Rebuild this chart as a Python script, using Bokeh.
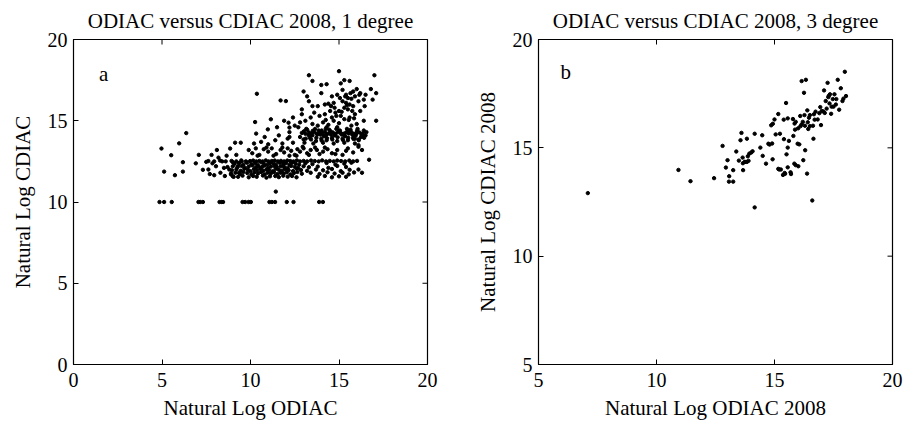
import math
from bokeh.plotting import figure
from bokeh.layouts import row
from bokeh.models import FixedTicker, Label
from bokeh.embed import file_html
from bokeh.resources import INLINE

FONT = "Liberation Serif"

# ---------------- Panel a data (1 degree) ----------------
floor_x = [4.86, 5.12, 5.55, 7.06, 7.16, 7.31, 8.25, 8.38, 8.45, 9.55, 9.70, 9.89, 10.02,
           11.07, 11.21, 11.39, 12.05, 12.43, 13.88, 14.09, 11.43]
floor_y = [10.0, 10.0, 10.0, 10.0, 10.0, 10.0, 10.0, 10.0, 10.0, 10.0, 10.0, 10.0, 10.0,
           10.0, 10.0, 10.0, 10.0, 10.0, 10.0, 10.0, 10.64]

left_x = [4.97, 5.12, 5.52, 5.73, 5.97, 6.18, 6.18, 6.37, 6.91, 7.08, 7.31, 7.50, 7.62, 7.70,
          7.80, 7.85, 7.95, 8.10, 8.19, 8.05, 8.30, 8.40, 8.50, 8.55, 8.65, 8.85, 8.80, 8.90,
          9.00, 9.05, 9.13, 9.20, 9.30, 9.35, 9.45, 9.50]
left_y = [13.29, 11.87, 12.88, 11.65, 13.61, 12.45, 11.87, 14.24, 12.38, 12.90, 11.98, 12.47,
          12.00, 11.72, 12.90, 12.38, 11.65, 13.20, 12.73, 12.20, 11.80, 12.50, 12.10, 11.60,
          12.85, 13.29, 12.00, 11.70, 12.45, 11.55, 13.65, 12.90, 12.20, 11.80, 13.65, 12.50]

line125_x = [7.62, 7.95, 8.28, 8.60, 8.93, 9.20, 9.48, 9.74, 9.98, 10.15, 10.33, 10.50, 10.68,
             10.86, 11.02, 11.20, 11.37, 11.55, 11.72, 11.90, 12.08, 12.25, 12.43, 12.62, 12.80,
             13.00, 13.20, 13.42, 13.63, 13.85, 14.05, 14.27, 14.48, 14.70, 14.90, 15.12, 15.35,
             15.58, 15.80, 16.02]
line125_y = [12.52, 12.50, 12.55, 12.50, 12.53, 12.50, 12.56, 12.50, 12.52, 12.55, 12.50, 12.53,
             12.50, 12.56, 12.50, 12.52, 12.55, 12.50, 12.53, 12.50, 12.55, 12.52, 12.50, 12.56,
             12.50, 12.53, 12.50, 12.55, 12.52, 12.50, 12.56, 12.50, 12.53, 12.50, 12.55, 12.52,
             12.50, 12.55, 12.50, 12.53]

band1_x = [9.10, 9.35, 9.60, 9.80, 10.05, 10.25, 10.40, 10.60, 10.75, 10.95, 11.10, 11.30, 11.45,
           11.65, 11.85, 12.00, 12.20, 12.35, 12.55, 12.75, 13.10, 13.50, 14.30, 14.80, 15.30, 15.70,
           8.70, 9.00, 9.25, 9.50, 9.70, 9.90, 10.10, 10.30, 10.45, 10.65, 10.80, 11.00, 11.15,
           11.35, 11.50, 11.70, 11.90, 12.10, 12.30, 12.50, 12.70, 13.00, 13.30, 13.80, 14.40,
           14.90, 15.40,
           8.95, 9.20, 9.45, 9.65, 9.85, 10.00, 10.20, 10.38, 10.55, 10.72, 10.90, 11.05, 11.25,
           11.42, 11.60, 11.78, 11.95, 12.15, 12.40, 12.60, 12.85, 13.20, 13.70, 14.10, 14.60,
           15.10, 15.60, 16.10,
           8.90, 9.15, 9.40, 9.60, 9.82, 10.05, 10.22, 10.42, 10.60, 10.80, 10.97, 11.15, 11.33,
           11.52, 11.70, 11.88, 12.05, 12.25, 12.45, 12.65, 12.90, 13.40, 13.90, 14.35, 14.75,
           15.20, 15.55, 15.85,
           9.00, 9.30, 9.55, 9.90, 10.15, 10.35, 10.70, 10.90, 11.10, 11.40, 11.60, 11.85, 12.10,
           12.35, 12.60, 13.80, 14.20, 14.60, 15.00, 15.40, 16.30, 16.70]
band1_y = [12.35, 12.40, 12.30, 12.42, 12.33, 12.38, 12.28, 12.44, 12.35, 12.30, 12.40, 12.36, 12.30,
           12.42, 12.34, 12.38, 12.30, 12.43, 12.35, 12.30, 12.38, 12.33, 12.40, 12.30, 12.36, 12.42,
           12.15, 12.20, 12.12, 12.22, 12.10, 12.18, 12.25, 12.12, 12.20, 12.15, 12.24, 12.10, 12.18,
           12.22, 12.12, 12.20, 12.15, 12.10, 12.22, 12.16, 12.10, 12.20, 12.14, 12.18, 12.10,
           12.22, 12.15,
           11.95, 12.00, 11.92, 12.05, 11.98, 11.90, 12.02, 11.95, 12.05, 11.92, 12.00, 11.96, 11.90,
           12.04, 11.98, 11.93, 12.02, 11.96, 11.90, 12.05, 11.97, 11.92, 12.00, 11.95, 12.03,
           11.90, 11.98, 12.00,
           11.75, 11.80, 11.72, 11.85, 11.78, 11.70, 11.82, 11.75, 11.85, 11.70, 11.80, 11.76, 11.84,
           11.72, 11.80, 11.75, 11.83, 11.70, 11.78, 11.85, 11.74, 11.80, 11.72, 11.83, 11.75,
           11.80, 11.70, 11.82,
           11.58, 11.55, 11.62, 11.52, 11.60, 11.55, 11.63, 11.50, 11.58, 11.60, 11.53, 11.62, 11.56,
           11.60, 11.52, 11.55, 11.60, 11.52, 11.58, 11.55, 11.80, 12.60]

mid_x = [9.90, 10.10, 10.30, 10.50, 10.75, 11.00, 11.20, 11.45, 11.70, 11.90, 12.10, 12.30, 12.50,
         12.65, 12.80, 13.00, 13.20, 13.40, 13.65, 13.90, 14.10, 14.35, 14.60, 14.90, 15.20, 15.50,
         15.80, 16.10, 10.40, 10.90, 11.30, 11.80, 12.20, 12.60, 12.95, 13.30, 13.75, 14.20, 14.80,
         15.40,
         10.20, 10.60, 11.00, 11.40, 11.80, 12.10, 12.40, 10.80, 11.60, 12.20, 10.32, 10.26, 11.15,
         10.98, 11.50, 12.15, 12.20, 10.36, 11.70, 12.00, 11.90, 12.50]
mid_y = [13.20, 13.00, 13.30, 12.90, 13.25, 13.10, 13.30, 12.95, 13.20, 13.05, 13.30, 13.15, 12.90,
         13.25, 13.10, 13.30, 13.00, 13.20, 13.35, 12.95, 13.10, 13.25, 13.00, 13.20, 12.90, 13.30,
         13.05, 13.40, 12.85, 13.35, 12.85, 13.35, 12.85, 12.85, 13.40, 12.90, 13.20, 13.35, 12.95,
         13.15,
         13.60, 13.70, 13.55, 13.80, 13.60, 13.90, 13.65, 14.00, 14.10, 14.30, 14.21, 14.92, 15.09,
         14.47, 14.60, 14.88, 14.58, 16.66, 16.25, 16.21, 15.00, 14.70]

band2_x = [12.90, 13.10, 13.30, 13.45, 13.60, 13.75, 13.90, 14.05, 14.20, 14.35, 14.50, 14.65,
           14.80, 14.95, 15.10, 15.25, 15.40, 15.55, 15.70, 15.85, 16.00, 16.15, 16.30, 16.45,
           12.80, 13.00, 13.20, 13.35, 13.50, 13.70, 13.85, 14.00, 14.15, 14.30, 14.45, 14.60,
           14.75, 14.90, 15.05, 15.20, 15.35, 15.50, 15.65, 15.80, 15.95, 16.10, 16.25, 16.40,
           16.55, 13.15, 13.40, 13.65, 13.95, 14.25, 14.55, 14.85, 15.15, 15.45, 15.75, 16.05,
           16.35, 13.05, 13.55, 14.10, 14.70, 15.30, 15.90, 16.50,
           13.02, 13.28, 13.52, 13.78, 14.02, 14.28, 14.52, 14.78, 15.02, 15.28, 15.52, 15.78,
           16.02, 16.28, 13.12, 13.42, 13.72, 14.02, 14.32, 14.62, 14.92, 15.22, 15.52, 15.82,
           16.12, 16.42]
band2_y = [14.25, 14.20, 14.28, 14.22, 14.30, 14.20, 14.26, 14.22, 14.30, 14.20, 14.25, 14.28,
           14.20, 14.30, 14.24, 14.20, 14.28, 14.22, 14.30, 14.20, 14.25, 14.28, 14.20, 14.30,
           14.00, 13.85, 14.45, 13.95, 14.10, 13.75, 14.40, 13.90, 14.05, 13.80, 14.45, 13.95,
           14.10, 13.75, 14.40, 13.90, 14.05, 13.80, 14.45, 13.95, 14.10, 13.85, 14.00, 14.40,
           14.30, 14.50, 14.10, 14.50, 14.15, 14.50, 14.15, 14.50, 14.15, 14.50, 14.15, 14.50,
           14.10, 13.65, 13.60, 13.65, 13.60, 13.65, 13.60, 14.10,
           14.35, 14.12, 14.38, 14.15, 14.40, 14.12, 14.35, 14.15, 14.38, 14.12, 14.35, 14.15,
           14.38, 14.12, 13.90, 13.85, 13.95, 13.78, 13.92, 13.85, 13.98, 13.82, 13.95, 13.88,
           13.80, 13.95]

upper_x = [13.30, 13.50, 14.30, 15.00, 15.10, 15.30, 15.60, 16.00, 16.20, 16.50, 16.80, 16.90,
           17.00, 17.10, 17.10, 16.40, 13.00, 13.20, 14.00, 14.20, 14.40, 14.70, 15.20, 15.40,
           15.50, 15.70, 15.90, 15.60, 15.30, 15.00, 14.80, 15.50, 15.80, 16.10, 14.50, 14.20,
           13.90, 13.60, 13.40, 13.10, 12.90, 12.80, 13.50, 13.80, 14.10, 14.40, 14.70, 15.00,
           15.30, 15.60, 15.90, 16.20, 16.00, 15.70, 14.90, 14.30, 13.80, 13.50, 14.60, 15.80,
           12.70, 12.40, 12.20, 16.40, 16.10, 16.30, 15.90, 14.00, 15.20, 14.90, 15.40, 12.90,
           13.30, 14.60, 15.10,
           14.55, 14.85, 15.15, 15.45, 15.75, 15.05, 15.35, 15.65, 14.25, 14.75, 15.55, 15.85,
           16.15, 16.45]
upper_y = [17.80, 17.45, 17.25, 18.05, 17.30, 17.50, 17.45, 16.95, 16.70, 16.60, 16.95, 16.30,
           17.80, 16.70, 15.00, 16.30, 16.80, 16.50, 16.70, 16.00, 16.05, 16.10, 16.20, 16.10,
           16.40, 16.35, 16.50, 16.00, 15.80, 15.60, 15.50, 15.70, 15.90, 16.20, 15.60, 15.40,
           15.30, 15.50, 15.20, 15.00, 15.40, 14.90, 14.80, 14.70, 14.90, 14.75, 15.00, 14.85,
           15.10, 15.20, 15.40, 15.60, 14.80, 14.70, 14.60, 14.60, 15.90, 15.90, 16.50, 16.80,
           14.60, 15.20, 14.00, 15.00, 13.50, 13.20, 13.90, 17.20, 16.90, 16.60, 16.60, 15.70,
           16.20, 15.20, 15.30,
           15.90, 15.30, 15.55, 15.95, 15.60, 16.40, 16.50, 16.70, 15.05, 15.80, 15.05, 15.15,
           16.60, 15.90]

# ---------------- Panel b data (3 degree) ----------------
b_x = [7.09, 10.93, 11.44, 12.44, 12.80, 12.94, 13.01, 13.08, 13.07, 13.25, 13.25, 13.38, 13.49,
       13.56, 13.60, 13.65, 13.66, 13.67, 13.74, 13.83, 13.83, 13.87, 13.93, 14.01, 14.07, 14.16,
       14.16, 14.40, 14.48, 14.50, 14.64, 14.74, 14.79, 14.86, 14.92, 14.93, 15.00, 15.05, 15.16,
       15.16, 15.23, 15.27, 15.36, 15.39, 15.43, 15.49, 15.51, 15.56, 15.56, 15.56, 15.61, 15.70,
       15.68, 15.78, 15.80, 15.84, 15.85, 15.87, 15.98, 16.01, 16.05, 16.09, 16.15, 16.15, 16.22,
       16.25, 16.27, 16.29, 16.30, 16.33, 16.38, 16.39, 16.41, 16.43, 16.46, 16.50, 16.60, 16.63,
       16.65, 16.67, 16.74, 16.83, 16.94, 16.97, 17.07, 17.13, 17.10, 17.17, 17.21, 17.25, 17.28,
       17.33, 17.35, 17.40, 17.42, 17.47, 17.54, 17.62, 17.68, 17.74, 17.81, 17.88, 17.92, 17.98,
       18.03,
       15.90, 16.10, 16.20, 16.50, 16.00, 16.70, 16.90, 17.00, 17.50, 17.60, 17.30, 15.40, 14.90,
       13.90, 13.75, 15.20, 15.45, 15.90]
b_y = [12.91, 13.98, 13.46, 13.60, 15.09, 14.09, 14.43, 13.69, 13.44, 13.44, 13.97, 14.83, 14.41,
       15.35, 15.69, 14.55, 14.29, 13.97, 14.35, 15.42, 14.35, 14.61, 14.73, 14.78, 14.84, 15.65,
       12.25, 15.01, 15.58, 14.63, 14.27, 15.19, 15.15, 16.04, 14.47, 16.11, 16.31, 15.62, 16.56,
       14.03, 15.65, 14.00, 13.75, 16.30, 13.84, 17.07, 14.70, 15.01, 16.36, 14.10, 15.32, 13.79,
       13.87, 16.33, 15.55, 14.27, 16.12, 15.84, 15.19, 14.15, 15.16, 16.47, 16.08, 18.08, 14.43,
       17.54, 16.51, 16.02, 14.89, 18.14, 13.81, 16.73, 16.18, 15.87, 16.39, 16.51, 12.57, 16.02,
       15.42, 16.55, 16.67, 16.31, 16.88, 16.05, 16.68, 16.61, 17.65, 17.16, 16.81, 18.00, 17.34,
       17.05, 17.47, 16.57, 16.90, 17.25, 17.47, 17.25, 18.14, 16.76, 17.75, 17.16, 17.27, 18.51,
       17.39,
       16.20, 16.00, 16.20, 16.00, 15.90, 16.30, 16.60, 16.70, 16.90, 17.00, 17.40, 15.40, 15.20,
       14.40, 14.35, 14.00, 13.80, 14.20]

a_x = floor_x + left_x + line125_x + band1_x + mid_x + band2_x + upper_x
a_y = floor_y + left_y + line125_y + band1_y + mid_y + band2_y + upper_y

ticks_a = [0, 5, 10, 15, 20]
ticks_b = [5, 10, 15, 20]


def make_panel(title, xs, ys, rng, ticks, xlabel, ylabel, letter, letter_xy,
               width, left, right):
    p = figure(width=width, height=434, x_range=rng, y_range=rng,
               output_backend="svg", toolbar_location=None,
               min_border_left=left, min_border_right=right,
               min_border_top=38, min_border_bottom=70,
               title=title)
    p.title.text_font = FONT
    p.title.text_font_size = "21px"
    p.title.text_font_style = "normal"
    p.title.align = "center"
    p.title.text_color = "black"
    p.title.standoff = 13
    p.xgrid.visible = False
    p.ygrid.visible = False
    p.outline_line_color = "black"
    p.outline_line_width = 1.2
    p.background_fill_color = "white"
    p.border_fill_color = "white"

    for ax, lab in ((p.xaxis[0], xlabel), (p.yaxis[0], ylabel)):
        ax.ticker = FixedTicker(ticks=ticks)
        ax.axis_label = lab
        ax.axis_label_text_font = FONT
        ax.axis_label_text_font_size = "21px"
        ax.axis_label_text_font_style = "normal"
        ax.axis_label_text_color = "black"
        ax.major_label_text_font = FONT
        ax.major_label_text_font_size = "20px"
        ax.major_label_text_color = "black"
        ax.major_tick_in = 5
        ax.major_tick_out = 0
        ax.minor_tick_line_color = None
        ax.axis_line_color = "black"
        ax.major_tick_line_color = "black"
    p.xaxis[0].major_label_standoff = 8
    p.yaxis[0].major_label_standoff = 6
    p.xaxis[0].axis_label_standoff = 6
    p.yaxis[0].axis_label_standoff = 10

    # inward tick marks on the top and right edges (half of each dash is clipped by the frame)
    lo, hi = rng
    p.scatter(ticks, [hi] * len(ticks), marker="dash", size=10, angle=math.pi / 2,
              line_color="black", line_width=1)
    p.scatter([hi] * len(ticks), ticks, marker="dash", size=10,
              line_color="black", line_width=1)

    p.scatter(xs, ys, size=3.4, color="black", line_color="black")
    p.add_layout(Label(x=letter_xy[0], y=letter_xy[1], text=letter,
                       text_font=FONT, text_font_size="21px",
                       text_align="center", text_baseline="middle",
                       text_color="black"))
    return p


p1 = make_panel("ODIAC versus CDIAC 2008, 1 degree", a_x, a_y, (0, 20), ticks_a,
                "Natural Log ODIAC", "Natural Log CDIAC", "a", (1.7, 17.9),
                450, 73, 23)
p2 = make_panel("ODIAC versus CDIAC 2008, 3 degree", b_x, b_y, (5, 20), ticks_b,
                "Natural Log ODIAC 2008", "Natural Log CDIAC 2008", "b", (6.15, 18.5),
                457, 88, 15)

layout = row(p1, p2)
open("out.html", "w").write(file_html(layout, INLINE))
